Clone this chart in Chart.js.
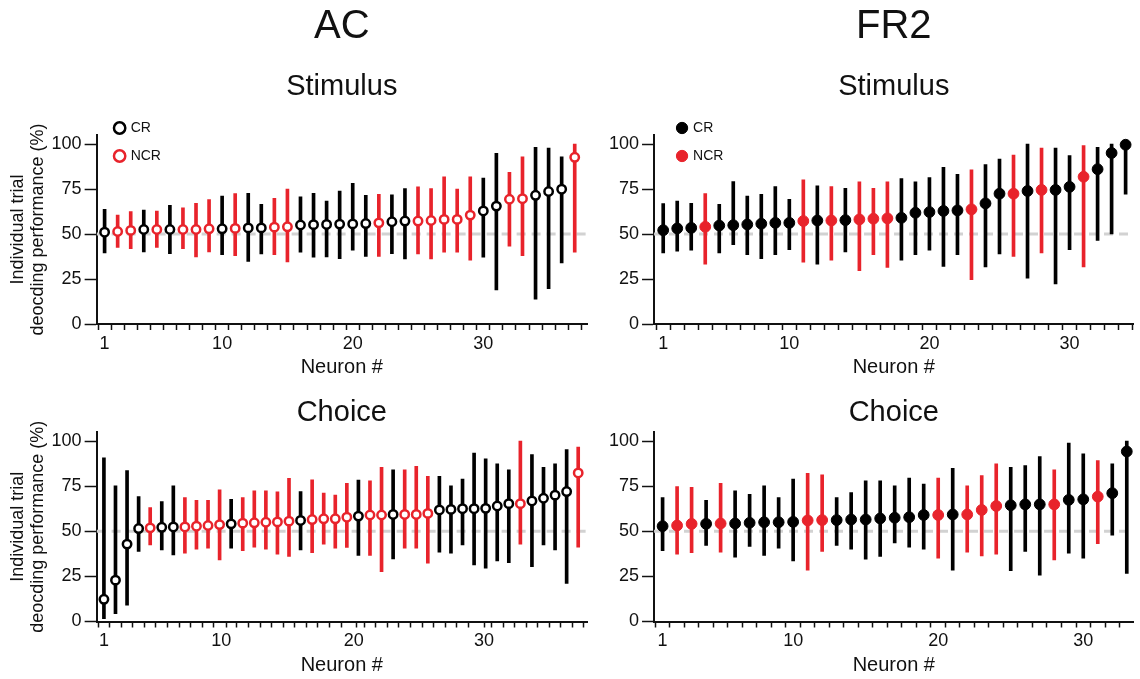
<!DOCTYPE html>
<html>
<head>
<meta charset="utf-8">
<title>Individual trial decoding performance</title>
<script src="https://cdn.jsdelivr.net/npm/chart.js@4.4.1/dist/chart.umd.min.js"></script>
<style>
  body { margin: 0; background: #fff; }
  #wrap { position: relative; width: 1140px; height: 679px; }
  canvas { position: absolute; }
</style>
</head>
<body>
<div id="wrap">
  <canvas id="acStim" width="600" height="385" style="left:0;top:0"></canvas>
  <canvas id="fr2Stim" width="540" height="385" style="left:600px;top:0"></canvas>
  <canvas id="acChoice" width="600" height="294" style="left:0;top:385px"></canvas>
  <canvas id="fr2Choice" width="540" height="294" style="left:600px;top:385px"></canvas>
</div>
<script>
const tickLabels = ['1', '10', '20', '30'];
const yTickValues = [0, 25, 50, 75, 100];
const chanceLevel = 50;

// group flags: 0 = CR, 1 = NCR
// AC - stimulus
const acStimNcr  = [0,1,1,0,1,0,1,1,1,0,1,0,0,1,1,0,0,0,0,0,0,1,0,0,1,1,1,1,1,0,0,1,1,0,0,0,1];
const acStimMean = [51.0,51.4,52.0,52.5,52.5,52.5,52.5,52.5,52.9,52.9,53.1,53.4,53.4,53.8,54.0,55.0,55.2,55.3,55.5,55.6,55.8,56.2,56.8,57.2,57.2,57.5,58.1,58.1,60.5,62.8,65.5,69.3,69.6,71.5,73.6,74.9,92.6];
const acStimLow  = [39.5,42.6,41.9,40.0,42.6,39.1,41.9,37.2,40.0,38.5,38.0,34.8,38.9,38.5,34.5,39.9,37.1,37.2,36.3,41.0,37.6,37.6,39.1,36.1,38.9,36.1,39.9,39.9,35.4,37.1,19.0,43.2,38.0,13.8,19.6,33.9,39.9];
const acStimHigh = [63.7,60.5,62.4,63.3,62.8,65.9,64.6,67.0,69.1,71.1,72.4,72.6,66.5,69.8,74.9,70.6,72.6,68.3,73.9,78.2,71.5,72.1,71.7,75.2,76.2,75.2,81.8,74.9,81.8,81.0,94.8,84.2,92.9,98.1,97.8,92.9,100];

// FR2 - stimulus
const fr2StimNcr  = [0,0,0,1,0,0,0,0,0,0,1,0,1,0,1,1,1,0,0,0,0,0,1,0,0,1,0,1,0,0,1,0,0,0];
const fr2StimMean = [52.1,53.1,53.4,54.0,54.7,54.9,55.3,55.7,56.2,56.2,57.2,57.5,57.5,57.7,58.1,58.5,58.7,59.0,61.8,62.2,62.8,63.1,63.7,67.0,72.4,72.4,73.9,74.5,74.5,76.2,81.8,86.0,95.0,99.6];
const fr2StimLow  = [39.5,40.4,41.0,33.3,39.5,44.1,38.5,36.3,38.5,41.3,34.3,33.3,35.4,40.0,29.6,38.5,31.5,35.4,38.5,41.0,32.0,38.5,24.6,31.7,38.9,37.6,25.5,39.5,22.3,41.3,31.7,46.4,50.1,72.1];
const fr2StimHigh = [66.9,68.3,67.0,72.4,66.5,79.1,71.1,72.1,76.4,69.3,80.1,76.7,76.4,75.4,79.0,75.4,79.0,80.8,79.0,81.4,87.0,83.2,85.7,88.5,91.6,93.9,100,97.8,97.8,93.5,99.1,98.1,100,100];

// AC - choice
const acChoiceNcr  = [0,0,0,0,1,0,0,1,1,1,1,0,1,1,1,1,1,0,1,1,1,1,0,1,1,0,1,1,1,0,0,0,0,0,0,0,1,0,0,0,0,1];
const acChoiceMean = [12.3,22.9,42.9,51.5,51.9,52.2,52.4,52.4,52.8,53.2,53.7,54.1,54.5,54.7,55.0,55.2,55.6,56.0,56.5,56.9,56.9,57.8,58.4,59.0,59.0,59.3,59.3,59.3,59.9,61.8,62.1,62.5,62.5,62.7,64.0,65.3,65.3,66.8,68.3,70.0,72.0,82.3];
const acChoiceLow  = [1.5,4.3,9.0,38.8,42.5,39.7,36.9,37.9,40.1,40.7,34.1,40.7,39.2,41.2,40.1,37.3,36.0,39.7,38.2,42.9,40.7,41.0,36.6,36.6,27.6,34.7,40.7,40.7,32.3,38.4,37.9,42.5,31.3,29.5,33.6,32.6,42.9,30.4,42.5,39.7,21.1,41.2];
const acChoiceHigh = [90.7,75.2,83.6,69.2,63.1,66.4,75.2,68.7,67.2,67.2,72.9,67.7,68.7,72.4,72.4,71.8,79.3,72.0,78.5,71.1,70.0,76.5,78.4,78.0,85.4,84.0,84.1,86.0,80.4,80.4,75.2,78.9,93.3,90.1,87.3,84.1,100,92.5,85.4,87.3,95.3,96.6];

// FR2 - choice
const fr2ChoiceNcr  = [0,1,1,0,1,0,0,0,0,0,1,1,0,0,0,0,0,0,0,1,0,1,1,1,0,0,0,1,0,0,1,0,0];
const fr2ChoiceMean = [52.8,53.2,54.1,54.1,54.3,54.3,54.7,55.0,55.0,55.2,56.0,56.2,56.2,56.5,56.5,57.1,57.5,57.8,59.0,59.0,59.3,59.3,61.8,64.0,64.4,64.9,64.9,64.9,67.4,67.7,69.2,71.1,94.2];
const fr2ChoiceLow  = [39.2,37.3,38.2,42.2,38.4,35.6,41.6,36.6,40.7,33.6,28.5,38.8,42.2,40.1,34.5,36.0,43.5,41.2,40.1,35.1,28.5,38.4,36.4,37.3,28.2,38.8,25.7,34.1,37.9,35.1,43.1,47.8,26.7];
const fr2ChoiceHigh = [68.7,74.8,74.3,67.2,76.5,72.4,70.5,75.2,68.7,78.9,82.1,81.3,68.7,71.5,78.0,78.0,75.2,79.5,76.1,79.5,84.9,75.2,80.8,87.3,85.4,86.4,91.4,84.1,98.9,92.9,89.2,87.3,100];

const RED = '#e8232b';
const BLACK = '#000';
const INK = '#111';

Chart.defaults.font.family = "'Liberation Sans', Arial, Helvetica, sans-serif";
Chart.defaults.color = INK;

// move the chartArea legend to the upper left corner of the plot
const legendShift = {
  id: 'legendShift',
  afterLayout(chart, args, opts) {
    const lg = chart.legend;
    if (!lg || !lg.options.display) return;
    const w = lg.width, h = lg.height;
    lg.left = chart.chartArea.left + opts.dx;
    lg.top = chart.chartArea.top + opts.dy;
    lg.right = lg.left + w;
    lg.bottom = lg.top + h;
  }
};

function markerStyle(open, color) {
  if (open) {
    return {
      pointRadius: 4.2, pointHoverRadius: 4.2, pointBorderWidth: 2.5,
      pointBackgroundColor: '#fff', pointBorderColor: color,
      backgroundColor: '#fff', borderColor: color, borderWidth: 2.5
    };
  }
  return {
    pointRadius: 5.4, pointHoverRadius: 5.4, pointBorderWidth: 1,
    pointBackgroundColor: color, pointBorderColor: color,
    backgroundColor: color, borderColor: color, borderWidth: 1
  };
}

function makePanel(id, p) {
  const n = p.mean.length;
  const labelPos = p.labelPos || [1, 10, 20, 30];
  const points = flag => p.mean
    .map((m, i) => ({ x: i + 1, y: m, g: p.ncr[i] }))
    .filter(d => d.g === flag);
  const bars = p.mean.map((_, i) => ({ x: i + 1, y: [p.low[i], p.high[i]] }));

  const title = p.header
    ? { display: true, text: p.header, fullSize: false, font: { size: 40, weight: 'normal' }, padding: { top: 3, bottom: 0 } }
    : { display: true, text: p.title, fullSize: false, font: { size: 29, weight: 'normal' }, padding: { top: 10.6, bottom: 1.6 } };
  const subtitle = p.header
    ? { display: true, text: p.title, fullSize: false, color: INK, font: { size: 29, weight: 'normal' }, padding: { top: 18.6, bottom: 30.6 } }
    : { display: false };

  new Chart(document.getElementById(id), {
    type: 'scatter',
    data: {
      datasets: [
        { label: 'CR', data: points(0), order: 0, clip: false, ...markerStyle(p.open, BLACK) },
        { label: 'NCR', data: points(1), order: 0, clip: false, ...markerStyle(p.open, RED) },
        {
          type: 'bar', label: '', data: bars, order: 1,
          backgroundColor: p.ncr.map(f => f ? RED : BLACK),
          barThickness: 3, borderWidth: 0
        },
        {
          type: 'line', label: '', order: 2,
          data: [{ x: p.xMin, y: chanceLevel }, { x: p.xMax, y: chanceLevel }],
          borderColor: '#d2d2d2', borderWidth: 3, borderDash: [9, 6], pointRadius: 0
        }
      ]
    },
    options: {
      responsive: false,
      animation: false,
      events: [],
      layout: { padding: { left: p.padLeft, right: p.padRight, top: 0, bottom: p.padBottom } },
      plugins: {
        title: title,
        subtitle: subtitle,
        tooltip: { enabled: false },
        legend: {
          display: p.legend,
          position: 'chartArea',
          align: 'start',
          labels: {
            usePointStyle: true, boxWidth: 8, boxHeight: 8, padding: 14,
            color: INK, font: { size: 14 },
            filter: item => item.text === 'CR' || item.text === 'NCR'
          }
        },
        legendShift: { dx: p.legendDx || 0, dy: -28 }
      },
      scales: {
        x: {
          type: 'linear', min: p.xMin, max: p.xMax, offset: false,
          afterBuildTicks: scale => {
            const t = [];
            for (let i = 1; i <= n; i++) t.push({ value: i });
            labelPos.forEach(v => { if (!Number.isInteger(v)) t.push({ value: v }); });
            t.sort((a, b) => a.value - b.value);
            scale.ticks = t;
          },
          ticks: {
            autoSkip: false, maxRotation: 0, minRotation: 0, padding: 3,
            color: INK, font: { size: 18 },
            callback: v => {
              const k = labelPos.indexOf(v);
              return k >= 0 ? tickLabels[k] : '';
            }
          },
          grid: {
            drawOnChartArea: false, tickLength: 6, tickWidth: 1.5,
            tickColor: ctx => (ctx.tick && !Number.isInteger(ctx.tick.value)) ? 'rgba(0,0,0,0)' : INK
          },
          border: { color: INK, width: 2 },
          title: { display: true, text: 'Neuron #', color: INK, font: { size: 20, lineHeight: 1 }, padding: { top: 0, bottom: 0 } }
        },
        y: {
          min: 0, max: 105,
          afterBuildTicks: scale => { scale.ticks = yTickValues.map(v => ({ value: v })); },
          ticks: { padding: 3, color: INK, font: { size: 18 } },
          grid: { drawOnChartArea: false, tickLength: 12, tickWidth: 1.5, tickColor: INK },
          border: { color: INK, width: 2 },
          title: p.yTitle
            ? { display: true, text: ['Individual trial', 'deocding performance (%)'], color: INK, font: { size: 18, lineHeight: 1.1 }, padding: { top: 4, bottom: 1 } }
            : { display: false }
        }
      }
    },
    plugins: [legendShift]
  });
}

makePanel('acStim', {
  mean: acStimMean, low: acStimLow, high: acStimHigh, ncr: acStimNcr,
  open: true, header: 'AC', title: 'Stimulus', yTitle: true, legend: true, legendDx: 5,
  xMin: 0.39, xMax: 37.94, padLeft: 4, padRight: 13, padBottom: 7.4
});
makePanel('fr2Stim', {
  mean: fr2StimMean, low: fr2StimLow, high: fr2StimHigh, ncr: fr2StimNcr,
  open: false, header: 'FR2', title: 'Stimulus', yTitle: false, legend: true, legendDx: 10,
  xMin: 0.345, xMax: 34.57, padLeft: 6, padRight: 0, padBottom: 7.4
});
makePanel('acChoice', {
  mean: acChoiceMean, low: acChoiceLow, high: acChoiceHigh, ncr: acChoiceNcr,
  open: true, title: 'Choice', yTitle: true, legend: false,
  labelPos: [1, 11.15, 22.6, 33.85],
  xMin: 0.37, xMax: 42.76, padLeft: 4, padRight: 13, padBottom: 3.9
});
makePanel('fr2Choice', {
  mean: fr2ChoiceMean, low: fr2ChoiceLow, high: fr2ChoiceHigh, ncr: fr2ChoiceNcr,
  open: false, title: 'Choice', yTitle: false, legend: false,
  xMin: 0.41, xMax: 33.47, padLeft: 6, padRight: 0, padBottom: 3.9
});
</script>
</body>
</html>
